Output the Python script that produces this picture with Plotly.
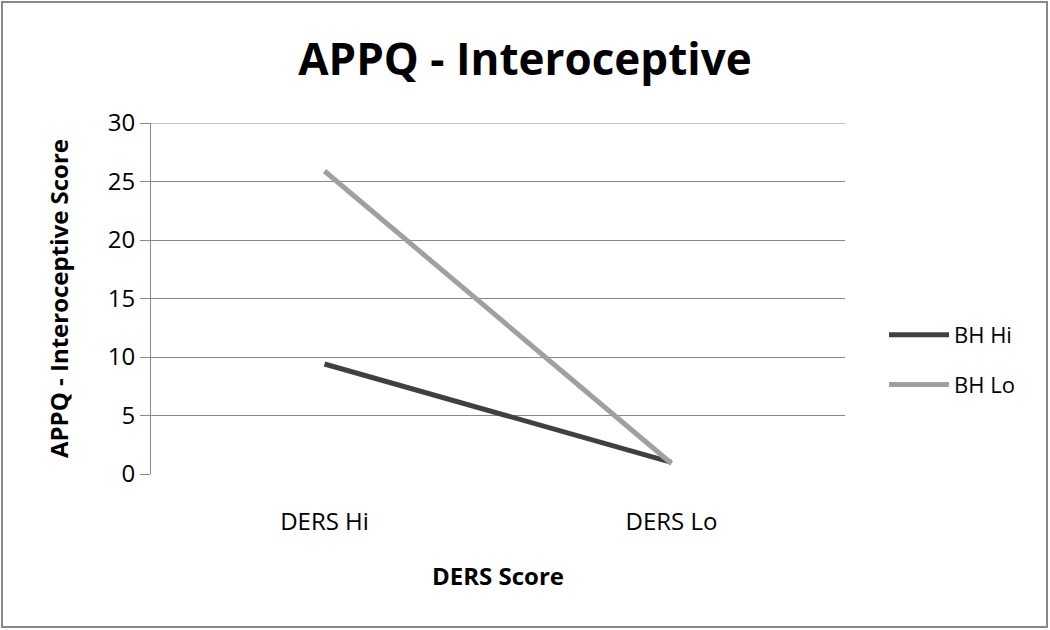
import plotly.graph_objects as go

categories = ["DERS Hi", "DERS Lo"]
bh_hi = [9.4, 1.0]
bh_lo = [25.9, 0.9]
y_ticks = [0, 5, 10, 15, 20, 25, 30]

W, H = 1050, 630
L, R, T, B = 151, 845, 123, 474
pw, ph = R - L, B - T

fig = go.Figure()
fig.add_trace(go.Scatter(x=categories, y=bh_hi, name="BH Hi", mode="lines", legendgroup="hi",
                         line=dict(color="#404040", width=5)))
fig.add_trace(go.Scatter(x=categories, y=bh_lo, name="BH Lo", mode="lines", legendgroup="lo",
                         line=dict(color="#a0a0a0", width=5)))

font = "Open Sans, Liberation Sans, sans-serif"

fig.update_layout(
    width=W, height=H,
    margin=dict(l=L, r=W - R, t=T, b=H - B, pad=0),
    paper_bgcolor="white", plot_bgcolor="white",
    font=dict(family=font, size=24, color="#000000"),
    showlegend=True,
    title=dict(text="<b>APPQ - Interoceptive</b>", x=0.5, xanchor="center",
               y=1 - 60 / H, yanchor="middle",
               font=dict(size=44, family=font, color="#000000")),
    legend=dict(x=(884 - L) / pw, y=(B - 360) / ph, xanchor="left", yanchor="middle",
                font=dict(size=22, family=font), tracegroupgap=18,
                itemwidth=60, bgcolor="rgba(0,0,0,0)"),
    xaxis=dict(type="category", range=[-0.5, 1.5], showgrid=False, showline=False,
               ticks="outside", ticklen=26, tickcolor="rgba(0,0,0,0)",
               tickfont=dict(size=24), zeroline=False,
               title=dict(text="<b>DERS Score</b>", font=dict(size=24), standoff=32)),
    yaxis=dict(range=[0, 30], tickvals=y_ticks, showgrid=True, gridcolor="#888888",
               gridwidth=1, showline=True, linecolor="#888888", linewidth=1,
               ticks="outside", ticklen=10, tickcolor="#888888", zeroline=False,
               tickfont=dict(size=24),
               title=dict(text="<b>APPQ - Interoceptive Score</b>", font=dict(size=24),
                          standoff=32)),
)

# gridline at the top of the range (plotly drops the one on the edge)
fig.add_shape(type="line", xref="paper", yref="y", x0=0, x1=1,
              y0=y_ticks[-1], y1=y_ticks[-1], line=dict(color="#888888", width=1),
              layer="below")

# outer chart frame
fig.add_shape(type="rect", xref="paper", yref="paper",
              x0=(2 - L) / pw, x1=(1047 - L) / pw,
              y0=(B - 627) / ph, y1=(B - 2) / ph,
              line=dict(color="#888888", width=2), fillcolor="rgba(0,0,0,0)", layer="below")

# drop the page's default body margin so the chart sits at the window origin
fig.write_html("out.html", config={"displayModeBar": False},
               post_script="document.body.style.margin='0';")
